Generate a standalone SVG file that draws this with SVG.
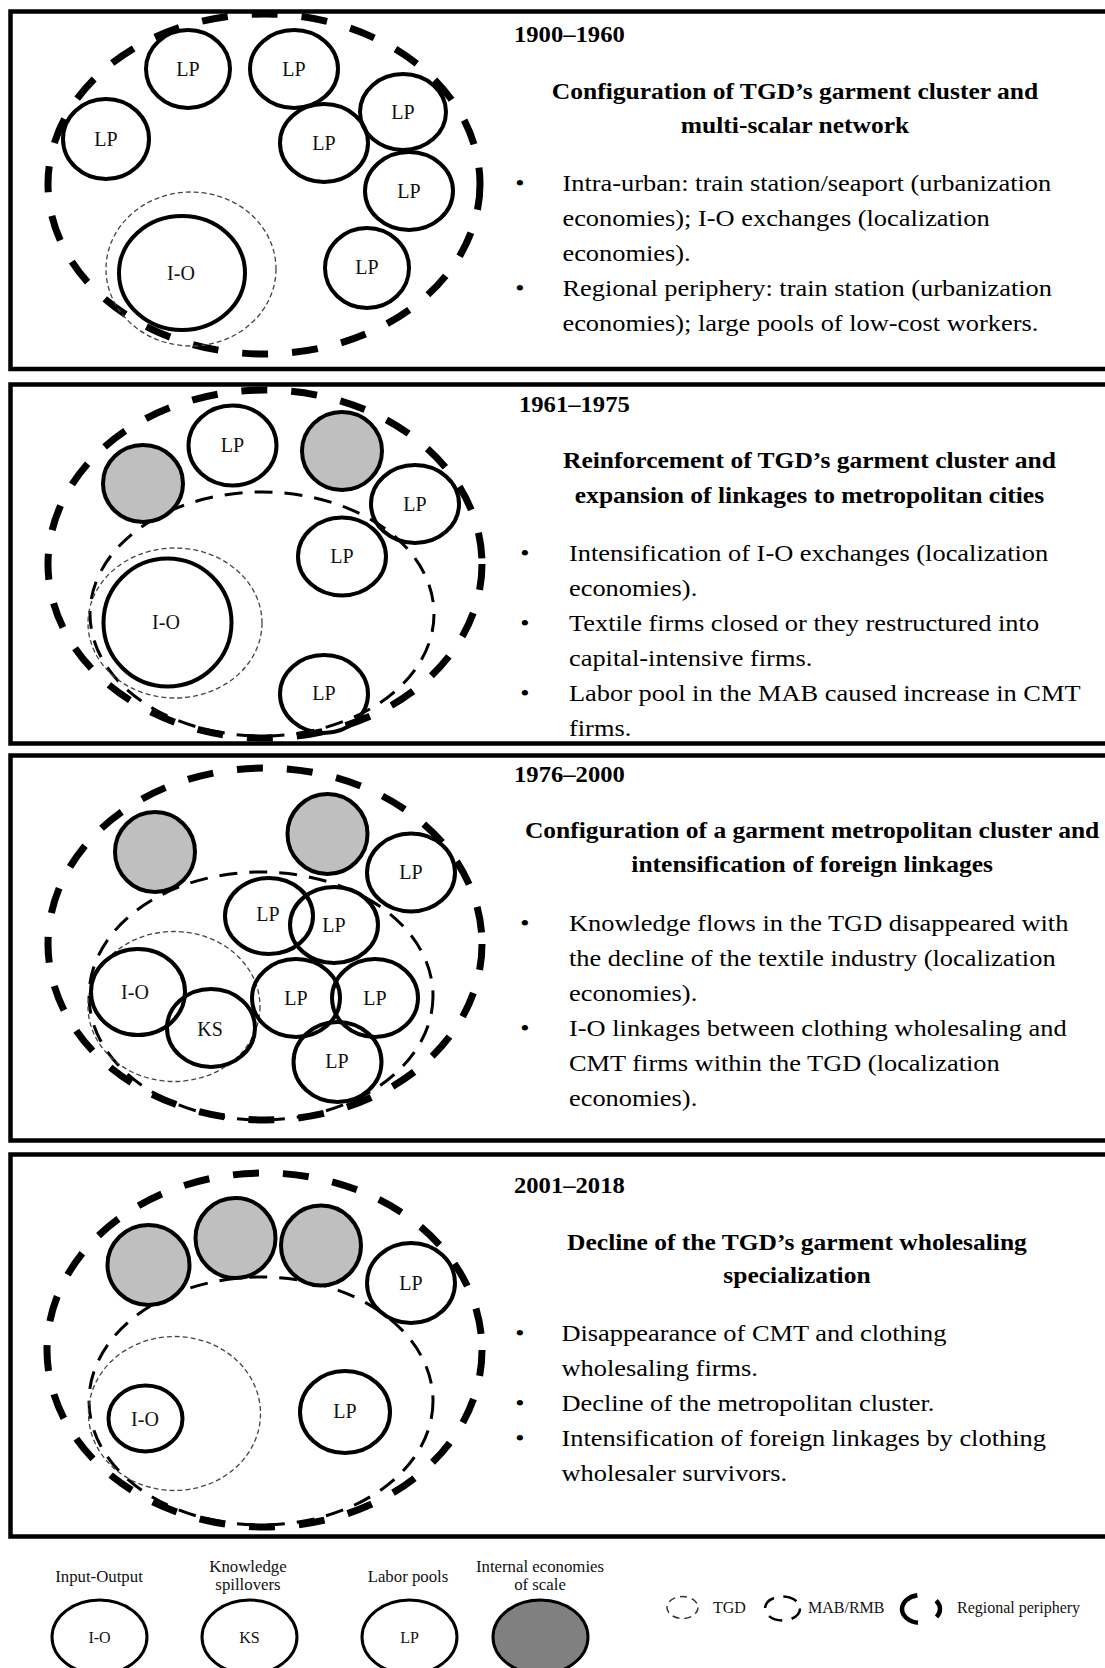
<svg xmlns="http://www.w3.org/2000/svg" width="1105" height="1668" viewBox="0 0 1105 1668">
  <style>
    .frame { fill: none; stroke: #000; stroke-width: 4.5; }
    .rp { fill: none; stroke: #000; stroke-width: 7; stroke-dasharray: 26 24; }
    .mab { fill: none; stroke: #000; stroke-width: 3; stroke-dasharray: 18 12; }
    .tgd { fill: none; stroke: #444; stroke-width: 1.3; stroke-dasharray: 5 3; }
    .node { fill: none; stroke: #000; stroke-width: 4; }
    .ies { fill: #bfbfbf; stroke: #000; stroke-width: 4; }
    .lbl { font-family: "Liberation Serif", serif; font-size: 20px; text-anchor: middle; fill: #111; }
    /* right-hand column: a slightly widened book face */
    .yr { font-family: "Liberation Serif", serif; font-size: 22.4px; font-weight: bold; fill: #000; }
    .hd { font-family: "Liberation Serif", serif; font-size: 23.2px; font-weight: bold; text-anchor: middle; fill: #000; }
    .body { font-family: "Liberation Serif", serif; font-size: 24px; fill: #000; }
    .bul { font-family: "Liberation Serif", serif; font-size: 24px; text-anchor: middle; fill: #000; }
    .lg-node { fill: none; stroke: #000; stroke-width: 3; }
    .lg-ies { fill: #808080; stroke: #000; stroke-width: 3; }
    .lg-cap { font-family: "Liberation Serif", serif; font-size: 16.8px; text-anchor: middle; fill: #111; }
    .lg-in { font-family: "Liberation Serif", serif; font-size: 16px; text-anchor: middle; fill: #111; }
    .lg-txt { font-family: "Liberation Serif", serif; font-size: 16px; fill: #111; }
  </style>

  <rect width="1105" height="1668" fill="#fff"/>

  <!-- Period 1900–1960 -->
  <g id="period-1900-1960">
    <rect class="frame" x="10.5" y="11.5" width="1110" height="357.5"/>
    <g id="p1-periphery"><ellipse class="rp" cx="264" cy="184" rx="216" ry="170"/></g>
    <g id="p1-tgd"><ellipse class="tgd" cx="191" cy="269" rx="85" ry="77"/></g>
    <g id="p1-io"><ellipse class="node" cx="182" cy="273" rx="63" ry="57"/><text class="lbl" x="181" y="280">I-O</text></g>
    <g id="p1-lp1"><ellipse class="node" cx="188" cy="69" rx="42" ry="39"/><text class="lbl" x="188" y="76">LP</text></g>
    <g id="p1-lp2"><ellipse class="node" cx="294" cy="69" rx="44" ry="39"/><text class="lbl" x="294" y="76">LP</text></g>
    <g id="p1-lp3"><ellipse class="node" cx="106" cy="139" rx="43" ry="40"/><text class="lbl" x="106" y="146">LP</text></g>
    <g id="p1-lp4"><ellipse class="node" cx="324" cy="143" rx="44" ry="39"/><text class="lbl" x="324" y="150">LP</text></g>
    <g id="p1-lp5"><ellipse class="node" cx="403" cy="112" rx="43" ry="38"/><text class="lbl" x="403" y="119">LP</text></g>
    <g id="p1-lp6"><ellipse class="node" cx="409" cy="191" rx="44" ry="39"/><text class="lbl" x="409" y="198">LP</text></g>
    <g id="p1-lp7"><ellipse class="node" cx="367" cy="268" rx="42" ry="40"/><text class="lbl" x="367" y="274">LP</text></g>

    <g id="p1-text" transform="translate(520 0) scale(1.1 1)">
      <text class="yr" x="-5.5" y="42">1900–1960</text>
      <text class="hd" x="250" y="99">Configuration of TGD’s garment cluster and</text>
      <text class="hd" x="250" y="133">multi-scalar network</text>
      <text class="bul" x="0" y="191">•</text>
      <text class="body" x="38.6" y="191">Intra-urban: train station/seaport (urbanization</text>
      <text class="body" x="38.6" y="226">economies); I-O exchanges (localization</text>
      <text class="body" x="38.6" y="261">economies).</text>
      <text class="bul" x="0" y="296">•</text>
      <text class="body" x="38.6" y="296">Regional periphery: train station (urbanization</text>
      <text class="body" x="38.6" y="331">economies); large pools of low-cost workers.</text>
    </g>
  </g>

  <!-- Period 1961–1975 -->
  <g id="period-1961-1975">
    <rect class="frame" x="10.5" y="384.5" width="1110" height="359"/>
    <g id="p2-periphery"><ellipse class="rp" cx="265" cy="564" rx="217" ry="174"/></g>
    <g id="p2-mab"><ellipse class="mab" cx="262" cy="614" rx="172" ry="122"/></g>
    <g id="p2-tgd"><ellipse class="tgd" cx="175" cy="623" rx="87" ry="75"/></g>
    <g id="p2-io"><ellipse class="node" cx="167.5" cy="622.5" rx="64" ry="64"/><text class="lbl" x="166" y="629">I-O</text></g>
    <g id="p2-ies1"><ellipse class="ies" cx="143" cy="483.5" rx="40" ry="38.5"/></g>
    <g id="p2-ies2"><ellipse class="ies" cx="342" cy="451" rx="40" ry="39"/></g>
    <g id="p2-lp1"><ellipse class="node" cx="232.5" cy="445.5" rx="44" ry="40"/><text class="lbl" x="232.5" y="452">LP</text></g>
    <g id="p2-lp2"><ellipse class="node" cx="415" cy="504" rx="44" ry="39"/><text class="lbl" x="415" y="511">LP</text></g>
    <g id="p2-lp3"><ellipse class="node" cx="342" cy="556.5" rx="44" ry="39"/><text class="lbl" x="342" y="563">LP</text></g>
    <g id="p2-lp4"><ellipse class="node" cx="324" cy="694" rx="44" ry="39"/><text class="lbl" x="324" y="700">LP</text></g>

    <g id="p2-text" transform="translate(525 0) scale(1.1 1)">
      <text class="yr" x="-5.5" y="412">1961–1975</text>
      <text class="hd" x="258.6" y="468">Reinforcement of TGD’s garment cluster and</text>
      <text class="hd" x="258.6" y="503">expansion of linkages to metropolitan cities</text>
      <text class="bul" x="0" y="561">•</text>
      <text class="body" x="40" y="561">Intensification of I-O exchanges (localization</text>
      <text class="body" x="40" y="596">economies).</text>
      <text class="bul" x="0" y="631">•</text>
      <text class="body" x="40" y="631">Textile firms closed or they restructured into</text>
      <text class="body" x="40" y="666">capital-intensive firms.</text>
      <text class="bul" x="0" y="701">•</text>
      <text class="body" x="40" y="701">Labor pool in the MAB caused increase in CMT</text>
      <text class="body" x="40" y="736">firms.</text>
    </g>
  </g>

  <!-- Period 1976–2000 -->
  <g id="period-1976-2000">
    <rect class="frame" x="10.5" y="755.5" width="1110" height="385"/>
    <g id="p3-periphery"><ellipse class="rp" cx="265" cy="944" rx="217" ry="176"/></g>
    <g id="p3-mab"><ellipse class="mab" cx="261" cy="996" rx="172" ry="124"/></g>
    <g id="p3-tgd"><ellipse class="tgd" cx="174" cy="1006.5" rx="86" ry="75"/></g>
    <g id="p3-ies1"><ellipse class="ies" cx="155" cy="852" rx="40" ry="40"/></g>
    <g id="p3-ies2"><ellipse class="ies" cx="327.5" cy="834" rx="40" ry="40"/></g>
    <g id="p3-lp1"><ellipse class="node" cx="411" cy="872.5" rx="44" ry="39"/><text class="lbl" x="411" y="879">LP</text></g>
    <g id="p3-lp2"><ellipse class="node" cx="269" cy="916" rx="44" ry="38"/><text class="lbl" x="268" y="921">LP</text></g>
    <g id="p3-lp3"><ellipse class="node" cx="334" cy="925" rx="44" ry="38"/><text class="lbl" x="334" y="932">LP</text></g>
    <g id="p3-lp4"><ellipse class="node" cx="296" cy="998" rx="44" ry="39"/><text class="lbl" x="296" y="1005">LP</text></g>
    <g id="p3-lp5"><ellipse class="node" cx="375" cy="998" rx="43" ry="39"/><text class="lbl" x="375" y="1005">LP</text></g>
    <g id="p3-lp6"><ellipse class="node" cx="337.5" cy="1062" rx="44" ry="40"/><text class="lbl" x="337" y="1068">LP</text></g>
    <g id="p3-io"><ellipse class="node" cx="138" cy="992" rx="47" ry="43"/><text class="lbl" x="135" y="999">I-O</text></g>
    <g id="p3-ks"><ellipse class="node" cx="211" cy="1028" rx="44" ry="39"/><text class="lbl" x="210" y="1036">KS</text></g>

    <g id="p3-text" transform="translate(525 0) scale(1.1 1)">
      <text class="yr" x="-10" y="782">1976–2000</text>
      <text class="hd" x="261" y="838">Configuration of a garment metropolitan cluster and</text>
      <text class="hd" x="261" y="872">intensification of foreign linkages</text>
      <text class="bul" x="0" y="931">•</text>
      <text class="body" x="40" y="931">Knowledge flows in the TGD disappeared with</text>
      <text class="body" x="40" y="966">the decline of the textile industry (localization</text>
      <text class="body" x="40" y="1001">economies).</text>
      <text class="bul" x="0" y="1036">•</text>
      <text class="body" x="40" y="1036">I-O linkages between clothing wholesaling and</text>
      <text class="body" x="40" y="1071">CMT firms within the TGD (localization</text>
      <text class="body" x="40" y="1106">economies).</text>
    </g>
  </g>

  <!-- Period 2001–2018 -->
  <g id="period-2001-2018">
    <rect class="frame" x="10.5" y="1154.5" width="1110" height="382"/>
    <g id="p4-periphery"><ellipse class="rp" cx="264.5" cy="1350" rx="217.5" ry="177"/></g>
    <g id="p4-mab"><ellipse class="mab" cx="261" cy="1401" rx="172" ry="124"/></g>
    <g id="p4-tgd"><ellipse class="tgd" cx="174.5" cy="1413.5" rx="86" ry="77"/></g>
    <g id="p4-ies1"><ellipse class="ies" cx="148.5" cy="1265" rx="41" ry="40"/></g>
    <g id="p4-ies2"><ellipse class="ies" cx="235.5" cy="1238" rx="40" ry="40"/></g>
    <g id="p4-ies3"><ellipse class="ies" cx="321" cy="1245.5" rx="40" ry="40"/></g>
    <g id="p4-lp1"><ellipse class="node" cx="411" cy="1283" rx="44" ry="40"/><text class="lbl" x="411" y="1290">LP</text></g>
    <g id="p4-lp2"><ellipse class="node" cx="345" cy="1412" rx="45" ry="41"/><text class="lbl" x="345" y="1418">LP</text></g>
    <g id="p4-io"><ellipse class="node" cx="145.5" cy="1418.5" rx="37" ry="33"/><text class="lbl" x="145" y="1426">I-O</text></g>

    <g id="p4-text" transform="translate(520 0) scale(1.1 1)">
      <text class="yr" x="-5.5" y="1193">2001–2018</text>
      <text class="hd" x="251.8" y="1250">Decline of the TGD’s garment wholesaling</text>
      <text class="hd" x="251.8" y="1283">specialization</text>
      <text class="bul" x="0" y="1341">•</text>
      <text class="body" x="37.7" y="1341">Disappearance of CMT and clothing</text>
      <text class="body" x="37.7" y="1376">wholesaling firms.</text>
      <text class="bul" x="0" y="1411">•</text>
      <text class="body" x="37.7" y="1411">Decline of the metropolitan cluster.</text>
      <text class="bul" x="0" y="1446">•</text>
      <text class="body" x="37.7" y="1446">Intensification of foreign linkages by clothing</text>
      <text class="body" x="37.7" y="1481">wholesaler survivors.</text>
    </g>
  </g>

  <!-- Legend -->
  <g id="legend">
    <g id="lg-io">
      <text class="lg-cap" x="99" y="1582">Input-Output</text>
      <ellipse class="lg-node" cx="99.5" cy="1637" rx="47.5" ry="37"/>
      <text class="lg-in" x="99.5" y="1643">I-O</text>
    </g>
    <g id="lg-ks">
      <text class="lg-cap" x="248" y="1572">Knowledge</text>
      <text class="lg-cap" x="248" y="1590">spillovers</text>
      <ellipse class="lg-node" cx="249.5" cy="1637" rx="47.5" ry="37"/>
      <text class="lg-in" x="249.5" y="1643">KS</text>
    </g>
    <g id="lg-lp">
      <text class="lg-cap" x="408" y="1582">Labor pools</text>
      <ellipse class="lg-node" cx="409.5" cy="1637" rx="47.5" ry="37"/>
      <text class="lg-in" x="409.5" y="1643">LP</text>
    </g>
    <g id="lg-ies">
      <text class="lg-cap" x="540" y="1572">Internal economies</text>
      <text class="lg-cap" x="540" y="1590">of scale</text>
      <ellipse class="lg-ies" cx="540.5" cy="1637" rx="47.5" ry="37"/>
    </g>
    <g id="lg-tgd">
      <ellipse cx="682.5" cy="1607.5" rx="15.5" ry="11" fill="none" stroke="#333" stroke-width="1.5" stroke-dasharray="7 5"/>
      <text class="lg-txt" x="713" y="1613">TGD</text>
    </g>
    <g id="lg-mab">
      <ellipse cx="782.5" cy="1608.5" rx="17.5" ry="12" fill="none" stroke="#000" stroke-width="2.5" stroke-dasharray="14 9.5"/>
      <text class="lg-txt" x="808" y="1613">MAB/RMB</text>
    </g>
    <g id="lg-rp">
      <ellipse cx="921" cy="1609" rx="19" ry="14" fill="none" stroke="#000" stroke-width="4.5" stroke-dasharray="9 20 45 20 11 100"/>
      <text class="lg-txt" x="957" y="1613">Regional periphery</text>
    </g>
  </g>
</svg>
